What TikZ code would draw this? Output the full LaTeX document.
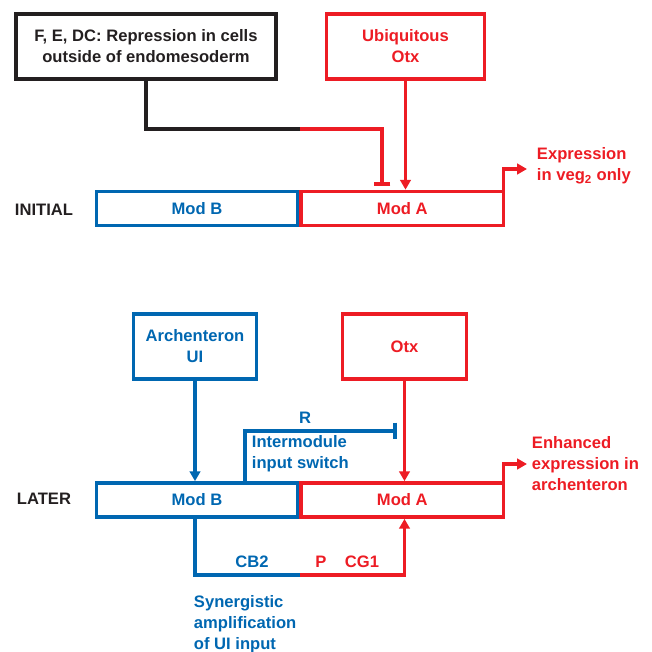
\documentclass[tikz,border=0pt]{standalone}
\usepackage{fontspec}
\setmainfont{Liberation Sans}
\usetikzlibrary{positioning,arrows.meta}
\definecolor{modblue}{RGB}{0,103,177}
\definecolor{modred}{RGB}{237,28,36}
\definecolor{ink}{RGB}{35,31,32}
\begin{document}
\begin{tikzpicture}[x=0.025cm,y=-0.025cm,
    font=\fontsize{11.8}{14.9}\selectfont\bfseries,
    box/.style={draw,line width=2.6pt,align=center,inner sep=0pt},
    wire/.style={line width=2.6pt},
    act/.style={wire,-{Triangle[length=7pt,width=7.5pt]}},
    repress/.style={wire,-{Bar[width=12pt]}}]
\useasboundingbox (0,0) rectangle (652,652);

% initial state
\begin{scope}[every node/.style={box}]
    \node[ink, minimum width=6.5cm, minimum height=1.62cm] (rep) at (146,46.5) {F, E, DC: Repression in cells\\outside of endomesoderm};
    \node[modred, minimum width=3.95cm, minimum height=1.62cm] (ubiq) at (405.5,46.5) {Ubiquitous\\Otx};
    \node[modblue, minimum width=5.03cm, minimum height=0.85cm] (modBi) at (197,208.5) {Mod B};
    \node[modred, minimum width=5.05cm, minimum height=0.85cm, right=0pt of modBi] (modAi) {Mod A};
\end{scope}
\node[ink, anchor=west] (initial) at (10,210) {INITIAL};
\node[modred, anchor=west, align=left] (exprI) at (532,166) {Expression\\in veg\textsubscript{2} only};

\coordinate (jI) at (300,129);
\coordinate (bI) at (382,186);
\coordinate (outI) at (527,169);
\draw[ink, wire] (rep.south) |- (jI);
\draw[modred, repress] (jI) -| (bI);
\draw[modred, act] (ubiq.south) -- (ubiq.south |- modAi.north);
\draw[modred, act] ([xshift=-1.3pt]modAi.north east) |- (outI);

% later state
\begin{scope}[every node/.style={box}]
    \node[modblue, minimum width=3.08cm, minimum height=1.62cm] (arch) at (195,346.5) {Archenteron\\UI};
    \node[modred, minimum width=3.1cm, minimum height=1.62cm] (otx) at (404.5,346.5) {Otx};
    \node[modblue, minimum width=5.03cm, minimum height=0.85cm] (modBl) at (197,500) {Mod B};
    \node[modred, minimum width=5.05cm, minimum height=0.85cm, right=0pt of modBl] (modAl) {Mod A};
\end{scope}
\node[ink, anchor=west] (later) at (12,499) {LATER};
\node[modblue] (rlab) at (305,418) {R};
\node[modblue, anchor=west, align=left] (switch) at (247,454) {Intermodule\\input switch};
\node[modred, anchor=west, align=left] (exprL) at (527,464) {Enhanced\\expression in\\archenteron};
\node[modblue] (cb) at (252,562) {CB2};
\node[modred] (p) at (321,562) {P};
\node[modred] (cg) at (362,562) {CG1};
\node[modblue, anchor=west, align=left] (syn) at (189,624) {Synergistic\\amplification\\of UI input};

\coordinate (rI) at (245,431);
\coordinate (rE) at (397,431);
\coordinate (outL) at (527,464);
\coordinate (jL) at (300,575);
\draw[modblue, act] (arch.south) -- (arch.south |- modBl.north);
\draw[modred, act] (otx.south) -- (otx.south |- modAl.north);
\draw[modblue, repress] (modBl.north -| rI) |- (rE);
\draw[modred, act] ([xshift=-1.3pt]modAl.north east) |- (outL);
\draw[modblue, wire] (modBl.south -| arch.south) |- (jL);
\draw[modred, act] (jL) -| (otx.south |- modAl.south);
\end{tikzpicture}
\end{document}
